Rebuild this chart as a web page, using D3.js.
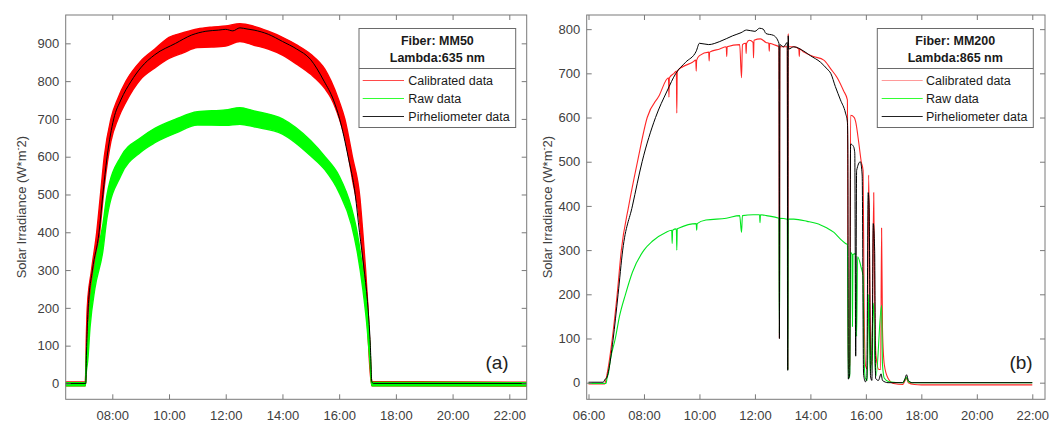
<!DOCTYPE html>
<html>
<head>
<meta charset="utf-8">
<script src="https://cdn.jsdelivr.net/npm/d3@7"></script>
<style>
    body { margin: 0; background: #fff; }
    svg { display: block; font-family: "Liberation Sans", Arial, sans-serif; }
</style>
</head>
<body>
<div id="container"></div>
<script>

// ---- panel (a): fiber MM50, 635 nm ----
// red and green are noisy bands, so they are kept as lower / upper envelopes
const redA_time = ["06:21","07:03","07:05","07:07","07:16","07:27","07:35","07:43","07:57","08:12","08:29","09:00","09:30","10:00","10:30","11:00","11:30","12:00","12:30","13:00","13:30","14:00","14:30","15:00","15:30","15:43","16:00","16:12","16:28","16:44","16:50","16:56","17:01","17:05","17:09","22:37"];
const redA_lo   = [-6,-6,40,130,230,320,420,520,640,700,745,805,835,860,875,889,890,893,905,895,885,869,845,818,780,755,702,650,540,420,330,230,130,40,-6,-7];
const redA_hi   = [4,4,120,200,300,400,500,600,700,755,800,853,885,916,928,938,943,946,952,945,932,916,896,871,831,800,747,700,600,490,400,300,200,100,5,3];

const greenA_time = ["06:21","07:03","07:05","07:08","07:13","07:23","07:40","07:49","08:18","09:00","09:30","10:15","11:00","12:00","12:30","13:00","14:00","15:00","15:30","16:00","16:26","16:38","16:50","16:59","17:05","17:09","22:37"];
const greenA_lo   = [-6,-6,30,60,150,250,350,440,550,612,637,663,684,683,686,679,660,602,565,505,420,350,250,150,60,-6,-6];
const greenA_hi   = [2,2,80,110,210,310,420,500,600,650,675,700,719,724,730,721,700,642,600,549,465,400,300,200,100,3,2];

const blackA_time = ["06:21","07:04","07:05","07:09","07:18","07:32","07:40","07:49","08:03","08:18","08:40","09:00","09:30","10:14","10:48","11:18","11:45","12:00","12:15","12:30","12:45","13:00","13:30","14:00","14:30","14:59","15:28","15:48","16:01","16:19","16:34","16:43","16:53","17:01","17:06","17:09","17:12","22:37"];
const blackA_val  = [0,0,60,200,300,400,500,600,700,750,800,835,870,900,922,932,935,937,933,941,938,935,924,905,885,858,800,750,700,600,500,400,300,200,100,5,0,0];

// ---- panel (b): fiber MM200, 865 nm ----
const blackB_time = ["06:00","06:32","06:36","06:39","06:43","06:53","07:04","07:14","07:35","07:56","08:25","08:50","09:09","09:30","09:53","10:00","10:20","10:44","11:12","11:30","11:42","12:00","12:10","12:18","12:24","12:40","12:52","12:53","12:54","13:02","13:10","13:11","13:12","13:13","13:24","13:46","14:00","14:22","14:36","14:44","14:54","15:05","15:16","15:20","15:21","15:22","15:25","15:27","15:33","15:36","15:38","15:40","15:48","15:52","15:55","15:59","16:02","16:05","16:07","16:10","16:13","16:16","16:19","16:21","16:27","16:33","16:36","16:48","17:20","17:25","17:28","17:32","17:40","22:00"];
const blackB_val  = [1,1,8,10,25,96,200,300,400,500,600,660,700,725,750,768,765,772,785,792,798,795,802,800,790,786,768,100,765,760,770,28,785,755,760,750,740,725,710,700,670,640,610,590,540,8,20,540,535,520,60,480,500,470,20,2,10,430,400,15,5,360,300,10,5,20,5,0,0,10,18,5,0,0];

const redB_time = ["06:00","06:35","06:38","06:42","06:51","07:02","07:11","07:27","07:46","08:07","08:33","08:53","08:54","08:55","09:05","09:10","09:11","09:12","09:24","09:45","09:52","09:53","09:54","10:00","10:20","10:21","10:22","10:44","10:58","10:59","11:00","11:27","11:31","11:33","11:40","11:41","11:42","11:48","11:56","11:57","11:58","12:12","12:24","12:30","12:31","12:32","12:40","12:52","12:53","12:54","13:10","13:11","13:12","13:13","13:24","13:35","13:36","13:37","13:46","14:07","14:29","14:44","14:58","15:12","15:20","15:22","15:25","15:27","15:35","15:38","15:45","15:50","15:54","15:56","15:59","16:03","16:06","16:08","16:10","16:13","16:17","16:19","16:22","16:28","16:32","16:34","16:36","16:40","16:48","17:00","17:20","17:25","17:28","17:32","17:45","18:00","22:00"];
const redB_val  = [-3,-3,8,30,96,200,300,400,500,600,650,690,646,690,700,705,610,705,715,725,730,705,730,740,748,728,748,755,760,738,760,765,690,765,768,745,768,775,770,735,775,778,770,768,750,768,765,760,100,760,760,30,790,760,760,755,738,755,748,738,730,710,690,660,640,30,40,605,600,590,540,500,480,200,40,30,470,300,80,40,430,200,60,30,30,350,120,40,10,-2,-4,5,10,0,-4,-5,-5];

const greenB_time = ["06:00","06:38","06:40","06:43","06:47","06:58","07:07","07:20","07:35","08:00","08:18","08:47","09:00","09:01","09:02","09:10","09:11","09:12","09:16","09:53","09:54","09:55","10:14","10:58","11:27","11:31","11:33","11:56","12:10","12:11","12:12","12:25","12:52","12:53","12:54","13:10","13:11","13:12","13:24","13:53","14:22","14:36","14:51","15:05","15:16","15:20","15:22","15:25","15:27","15:30","15:31","15:32","15:38","15:40","15:42","15:50","15:54","15:56","15:59","16:03","16:06","16:08","16:10","16:17","16:19","16:22","16:34","16:36","16:40","16:50","17:20","17:25","17:28","17:32","17:40","22:00"];
const greenB_val  = [-2,-2,10,21,50,100,150,200,250,300,320,340,345,315,345,348,300,348,350,360,345,360,368,372,378,340,378,380,380,362,380,378,372,113,372,370,29,370,370,365,357,350,340,325,315,312,10,15,295,290,127,290,292,105,285,260,240,60,10,5,200,100,20,180,60,15,175,40,10,2,0,8,12,2,0,0];

// ---- axes, legends ----
const xTicksA = ["08:00","10:00","12:00","14:00","16:00","18:00","20:00","22:00"];
const xTicksB = ["06:00","08:00","10:00","12:00","14:00","16:00","18:00","20:00","22:00"];
const yTicksA = [0,100,200,300,400,500,600,700,800,900];
const yTicksB = [0,100,200,300,400,500,600,700,800];
const legendLabels = ["Calibrated data","Raw data","Pirheliometer data"];
const titleA = ["Fiber: MM50","Lambda:635 nm"];
const titleB = ["Fiber: MM200","Lambda:865 nm"];

const toMin = s => { const p = s.split(":"); return +p[0] * 60 + +p[1]; };
const fmtTick = m => d3.format("02d")(Math.floor(m / 60)) + ":" + d3.format("02d")(m % 60);

const width = 1062, height = 423;
const svg = d3.select("#container").append("svg")
    .attr("width", width)
    .attr("height", height);
svg.append("rect").attr("width", width).attr("height", height).attr("fill", "#fff");

const AXIS_COLOR = "#7a7a7a";
const TEXT_COLOR = "#404040";

function drawPanel(cfg) {
    const x = d3.scaleLinear().domain(cfg.xDomain).range([cfg.left, cfg.right]);
    const y = d3.scaleLinear().domain(cfg.yDomain).range([cfg.bottom, cfg.top]);
    const g = svg.append("g");

    g.append("clipPath").attr("id", cfg.id + "-clip")
        .append("rect")
        .attr("x", cfg.left).attr("y", cfg.top)
        .attr("width", cfg.right - cfg.left).attr("height", cfg.bottom - cfg.top);

    const plot = g.append("g").attr("clip-path", `url(#${cfg.id}-clip)`);

    // bands (panel a)
    (cfg.bands || []).forEach(b => {
        const rows = b.time.map((t, i) => ({ t: toMin(t), lo: b.lo[i], hi: b.hi[i] }));
        plot.append("path")
            .datum(rows)
            .attr("fill", b.color)
            .attr("stroke", b.color)
            .attr("stroke-width", 1.4)
            .attr("stroke-linejoin", "round")
            .attr("d", d3.area()
                .curve(d3.curveMonotoneX)
                .x(d => x(d.t))
                .y0(d => y(d.lo))
                .y1(d => y(d.hi)));
    });

    // lines
    (cfg.lines || []).forEach(l => {
        const rows = l.time.map((t, i) => ({ t: toMin(t), v: l.val[i] }));
        plot.append("path")
            .datum(rows)
            .attr("fill", "none")
            .attr("stroke", l.color)
            .attr("stroke-opacity", l.opacity || 1)
            .attr("stroke-width", l.width || 1)
            .attr("stroke-linejoin", "round")
            .attr("d", d3.line().curve(d3.curveMonotoneX).x(d => x(d.t)).y(d => y(d.v)));
    });

    // axes, ticks inside
    const xt = cfg.xTicks.map(toMin);
    const bottomAxis = g.append("g")
        .attr("transform", `translate(0,${cfg.bottom})`)
        .call(d3.axisBottom(x).tickValues(xt).tickFormat(fmtTick).tickSizeInner(-5).tickSizeOuter(0).tickPadding(11));
    const topAxis = g.append("g")
        .attr("transform", `translate(0,${cfg.top})`)
        .call(d3.axisTop(x).tickValues(xt).tickFormat("").tickSizeInner(-5).tickSizeOuter(0));
    const leftAxis = g.append("g")
        .attr("transform", `translate(${cfg.left},0)`)
        .call(d3.axisLeft(y).tickValues(cfg.yTicks).tickSizeInner(-5).tickSizeOuter(0).tickPadding(6.5));
    const rightAxis = g.append("g")
        .attr("transform", `translate(${cfg.right},0)`)
        .call(d3.axisRight(y).tickValues(cfg.yTicks).tickFormat("").tickSizeInner(-5).tickSizeOuter(0));

    [bottomAxis, topAxis, leftAxis, rightAxis].forEach(a => {
        a.select(".domain").remove();
        a.selectAll("line").attr("stroke", AXIS_COLOR);
        a.selectAll("text").attr("fill", TEXT_COLOR).style("font-size", "13px");
    });

    g.append("rect")
        .attr("x", cfg.left).attr("y", cfg.top)
        .attr("width", cfg.right - cfg.left).attr("height", cfg.bottom - cfg.top)
        .attr("fill", "none").attr("stroke", AXIS_COLOR).attr("stroke-width", 1);

    // y label
    const yl = g.append("text")
        .attr("transform", `translate(${cfg.ylabelX},${(cfg.top + cfg.bottom) / 2}) rotate(-90)`)
        .attr("text-anchor", "middle")
        .attr("fill", TEXT_COLOR)
        .style("font-size", "13px");
    yl.append("tspan").text("Solar Irradiance (W*m");
    yl.append("tspan").attr("dy", -5).style("font-size", "9px").text("-");
    yl.append("tspan").attr("dy", 5).text("2)");

    // panel letter
    g.append("text")
        .attr("x", cfg.letterX).attr("y", 369)
        .attr("text-anchor", "middle")
        .attr("fill", "#222")
        .style("font-size", "19px")
        .text(cfg.letter);

    // legend
    const L = cfg.legend;
    const lg = g.append("g");
    lg.append("rect")
        .attr("x", L.x0).attr("y", 28.5)
        .attr("width", L.x1 - L.x0).attr("height", 99)
        .attr("fill", "#fff").attr("stroke", "#6a6a6a");
    lg.append("line")
        .attr("x1", L.x0).attr("x2", L.x1)
        .attr("y1", 68.5).attr("y2", 68.5)
        .attr("stroke", "#6a6a6a");
    cfg.title.forEach((t, i) => {
        lg.append("text")
            .attr("x", (L.x0 + L.x1) / 2).attr("y", 45 + i * 16.7)
            .attr("text-anchor", "middle")
            .attr("fill", "#1a1a1a")
            .style("font-size", "12.5px").style("font-weight", "bold")
            .text(t);
    });
    legendLabels.forEach((lab, i) => {
        const yy = 80.5 + i * 18;
        lg.append("line")
            .attr("x1", L.lineX0).attr("x2", L.lineX1)
            .attr("y1", yy).attr("y2", yy)
            .attr("stroke", L.colors[i]).attr("stroke-width", 1.2);
        lg.append("text")
            .attr("x", L.textX).attr("y", yy + 4.5)
            .attr("fill", "#1a1a1a")
            .style("font-size", "12.5px")
            .text(lab);
    });
}

drawPanel({
    id: "a",
    left: 65.7, right: 526.7, top: 15, bottom: 399.3,
    xDomain: [381.4, 1356.8], yDomain: [-42, 975],
    xTicks: xTicksA, yTicks: yTicksA,
    ylabelX: 26, letter: "(a)", letterX: 497,
    bands: [
        { time: redA_time, lo: redA_lo, hi: redA_hi, color: "#ff0000" },
        { time: greenA_time, lo: greenA_lo, hi: greenA_hi, color: "#00ff00" }
    ],
    lines: [
        { time: blackA_time, val: blackA_val, color: "#000", width: 1 }
    ],
    title: titleA,
    legend: { x0: 359, x1: 515.7, lineX0: 362.7, lineX1: 404, textX: 408.3, colors: ["#ff4a4a", "#33ff33", "#222"] }
});

drawPanel({
    id: "b",
    left: 586.7, right: 1045, top: 15, bottom: 399.3,
    xDomain: [356.1, 1347.5], yDomain: [-37.6, 832],
    xTicks: xTicksB, yTicks: yTicksB,
    ylabelX: 552, letter: "(b)", letterX: 1021,
    lines: [
        { time: redB_time, val: redB_val, color: "#ff0000", width: 1.1, opacity: 0.85 },
        { time: greenB_time, val: greenB_val, color: "#00e61e", width: 1.1 },
        { time: blackB_time, val: blackB_val, color: "#000", width: 1 }
    ],
    title: titleB,
    legend: { x0: 877.3, x1: 1033.3, lineX0: 881.7, lineX1: 922.7, textX: 926, colors: ["#ff9a9a", "#33ff33", "#222"] }
});

</script>
</body>
</html>
